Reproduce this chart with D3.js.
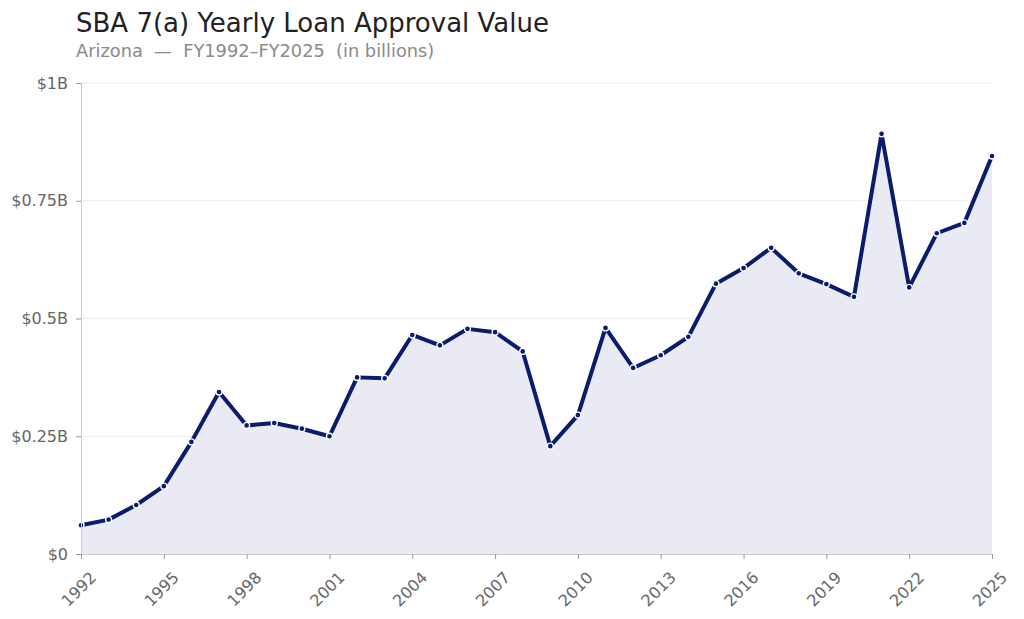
<!DOCTYPE html>
<html>
<head>
<meta charset="utf-8">
<script src="https://cdn.jsdelivr.net/npm/d3@7"></script>
<style>
  body { margin: 0; background: #fff; }
  svg { font-family: "DejaVu Sans", sans-serif; }
</style>
</head>
<body>
<div id="chart"></div>
<script>
// yearly values, in billions
let years = d3.range(1992, 2026);
let approvals = [
    0.061, 0.073, 0.104, 0.144, 0.238, 0.344, 0.273, 0.278, 0.266, 0.250,
    0.375, 0.373, 0.465, 0.443, 0.478, 0.471, 0.430, 0.229, 0.295, 0.480,
    0.395, 0.422, 0.461, 0.574, 0.607, 0.650, 0.596, 0.573, 0.546, 0.892,
    0.566, 0.681, 0.703, 0.845
];
let yTicks = [0, 0.25, 0.5, 0.75, 1];
let yTickLabels = ["$0", "$0.25B", "$0.5B", "$0.75B", "$1B"];
let xTicks = [1992, 1995, 1998, 2001, 2004, 2007, 2010, 2013, 2016, 2019, 2022, 2025];

let width = 1024;
let height = 619;
let margin = { top: 83, right: 32, bottom: 65, left: 81 };

let data = years.map((y, i) => ({ year: y, value: approvals[i] }));

let svg = d3.select("#chart")
    .append("svg")
    .attr("width", width)
    .attr("height", height);

const x = d3.scaleLinear()
    .domain([1992, 2025])
    .range([margin.left, width - margin.right]);

const y = d3.scaleLinear()
    .domain([0, 1])
    .range([height - margin.bottom, margin.top]);

// gridlines
svg.append("g")
    .selectAll("line")
    .data(yTicks)
    .join("line")
    .attr("x1", margin.left)
    .attr("x2", width - margin.right)
    .attr("y1", d => y(d))
    .attr("y2", d => y(d))
    .attr("stroke", "#ebebeb")
    .attr("stroke-width", 1);

// area + line
svg.append("path")
    .datum(data)
    .attr("fill", "#e9eaf3")
    .attr("d", d3.area()
        .x(d => x(d.year))
        .y0(y(0))
        .y1(d => y(d.value)));

svg.append("path")
    .datum(data)
    .attr("fill", "none")
    .attr("stroke", "#0b1c6b")
    .attr("stroke-width", 4)
    .attr("stroke-linejoin", "round")
    .attr("d", d3.line()
        .x(d => x(d.year))
        .y(d => y(d.value)));

svg.append("g")
    .selectAll("circle")
    .data(data)
    .join("circle")
    .attr("cx", d => x(d.year))
    .attr("cy", d => y(d.value))
    .attr("r", 3)
    .attr("fill", "#0b1c6b")
    .attr("stroke", "#fff")
    .attr("stroke-width", 1.3);

// axes
let yAxis = svg.append("g")
    .attr("transform", `translate(${margin.left},0)`)
    .call(d3.axisLeft(y)
        .tickValues(yTicks)
        .tickFormat((d, i) => yTickLabels[i])
        .tickSize(5)
        .tickPadding(8));

let xAxis = svg.append("g")
    .attr("transform", `translate(0,${height - margin.bottom})`)
    .call(d3.axisBottom(x)
        .tickValues(xTicks)
        .tickFormat(d3.format("d"))
        .tickSize(5));

[yAxis, xAxis].forEach(a => {
    a.select(".domain").attr("stroke", "#cccccc");
    a.selectAll(".tick line").attr("stroke", "#999999");
    a.selectAll(".tick text")
        .attr("fill", "#666666")
        .style("font-size", "16px")
        .style("font-family", "DejaVu Sans, sans-serif");
});

xAxis.selectAll(".tick text")
    .attr("text-anchor", "end")
    .attr("dy", "0.35em")
    .attr("transform", "translate(6,15) rotate(-45)");

// titles
svg.append("text")
    .attr("x", 76)
    .attr("y", 32)
    .attr("fill", "#222222")
    .style("font-size", "26px")
    .text("SBA 7(a) Yearly Loan Approval Value");

svg.append("text")
    .attr("x", 76)
    .attr("y", 57)
    .attr("fill", "#8a8a8a")
    .style("font-size", "17.8px")
    .attr("xml:space", "preserve")
    .style("white-space", "pre")
    .text("Arizona  \u2014  FY1992\u2013FY2025  (in billions)");
</script>
</body>
</html>
